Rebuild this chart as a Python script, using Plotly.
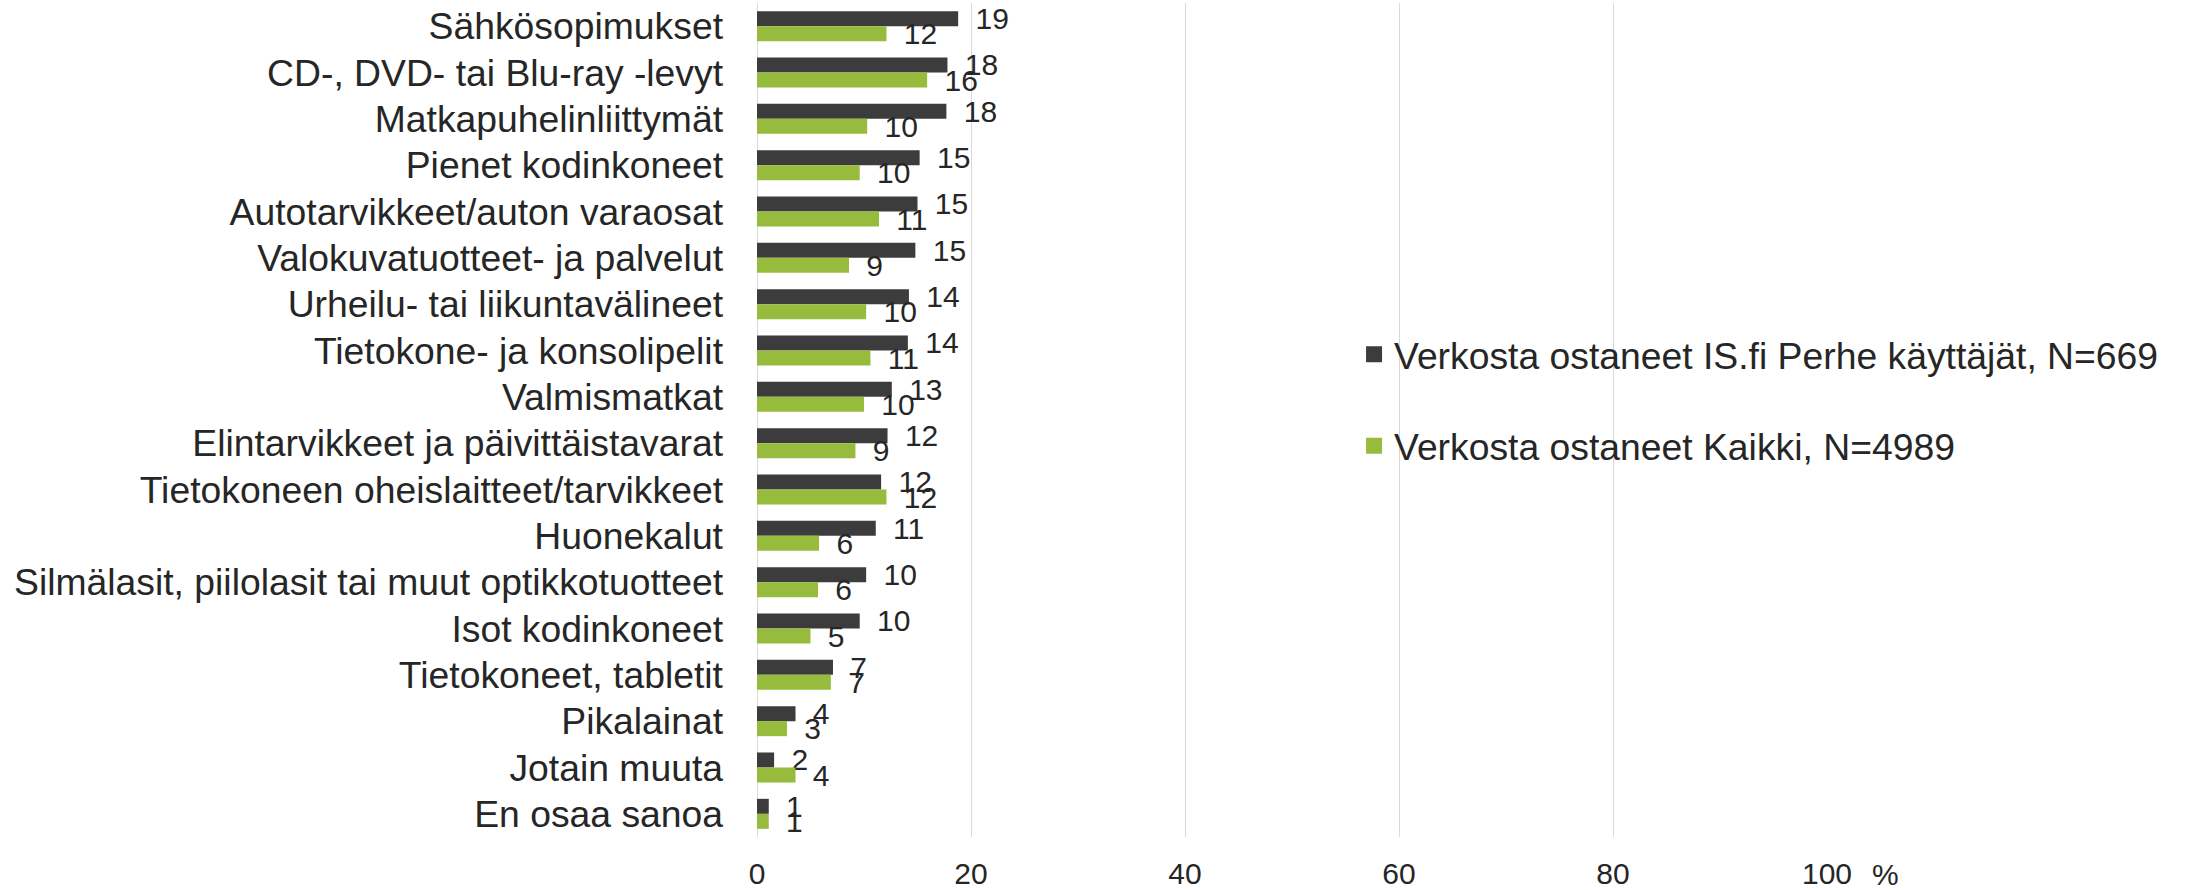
import plotly.graph_objects as go

categories = [
    "Sähkösopimukset",
    "CD-, DVD- tai Blu-ray -levyt",
    "Matkapuhelinliittymät",
    "Pienet kodinkoneet",
    "Autotarvikkeet/auton varaosat",
    "Valokuvatuotteet- ja palvelut",
    "Urheilu- tai liikuntavälineet",
    "Tietokone- ja konsolipelit",
    "Valmismatkat",
    "Elintarvikkeet ja päivittäistavarat",
    "Tietokoneen oheislaitteet/tarvikkeet",
    "Huonekalut",
    "Silmälasit, piilolasit tai muut optikkotuotteet",
    "Isot kodinkoneet",
    "Tietokoneet, tabletit",
    "Pikalainat",
    "Jotain muuta",
    "En osaa sanoa",
]

perhe_values = [18.8, 17.8, 17.7, 15.2, 15.0, 14.8, 14.2, 14.1, 12.6, 12.2,
                11.6, 11.1, 10.2, 9.6, 7.1, 3.6, 1.6, 1.1]
kaikki_values = [12.1, 15.9, 10.3, 9.6, 11.4, 8.6, 10.2, 10.6, 10.0, 9.2,
                 12.1, 5.8, 5.7, 5.0, 6.9, 2.8, 3.6, 1.1]

series_names = ["Verkosta ostaneet IS.fi Perhe käyttäjät, N=669",
                "Verkosta ostaneet Kaikki, N=4989"]
series_colors = ["#3c3c3c", "#97bb3c"]

x_tickvals = [0, 20, 40, 60, 80, 100]
x_ticktext = ["0", "20", "40", "60", "80", "100"]
unit_label = "%"

FONT = "Liberation Sans, Arial, sans-serif"
TXT = "#262626"
FS_CAT = 37.3
FS_NUM = 30

fig = go.Figure()
for vals, name, col, grp in zip([perhe_values, kaikki_values], series_names,
                                series_colors, ["a", "b"]):
    fig.add_trace(go.Bar(
        y=categories, x=vals, orientation="h", name=name,
        marker=dict(color=col, line=dict(width=0)),
        text=["\u00a0\u2009" + f"{v:.0f}" for v in vals],
        textposition="outside", constraintext="none", cliponaxis=False,
        textfont=dict(family=FONT, size=FS_NUM, color=TXT),
        showlegend=False, legendgroup=grp,
    ))
    fig.add_trace(go.Scatter(
        x=[None], y=[None], mode="markers", name=name, legendgroup=grp,
        marker=dict(symbol="square", size=19, color=col),
        showlegend=True,
    ))

fig.update_layout(
    width=2189, height=890,
    margin=dict(l=757, r=362, t=3, b=53, autoexpand=False),
    paper_bgcolor="white", plot_bgcolor="white",
    barmode="group", bargap=0.352, bargroupgap=0,
    font=dict(family=FONT, size=FS_CAT, color=TXT),
    showlegend=True,
    legend=dict(x=0.558, y=0.524, xanchor="left", yanchor="middle",
                bgcolor="rgba(0,0,0,0)", font=dict(size=FS_CAT, color=TXT),
                tracegroupgap=40, traceorder="grouped"),
    xaxis=dict(range=[0, 100], tickvals=x_tickvals, ticktext=x_ticktext,
               showgrid=True, gridcolor="#d9d9d9", gridwidth=1,
               zeroline=True, zerolinecolor="#d9d9d9", zerolinewidth=1,
               showline=False, ticks="", ticklabelstandoff=16,
               automargin=False,
               tickfont=dict(size=FS_NUM, color=TXT)),
    yaxis=dict(categoryorder="array", categoryarray=categories,
               autorange="reversed", showgrid=False, zeroline=False,
               showline=False, ticks="", ticklabelstandoff=33,
               automargin=False,
               tickfont=dict(size=FS_CAT, color=TXT)),
)

fig.add_annotation(text=unit_label, x=1.069, xref="paper", y=0, yref="paper",
                   yanchor="middle", yshift=-37, showarrow=False,
                   font=dict(size=FS_NUM, color=TXT))

fig.write_html("out.html",
               config={"displayModeBar": False},
               post_script="document.body.style.margin='0';"
                           "document.body.style.overflow='hidden';")
